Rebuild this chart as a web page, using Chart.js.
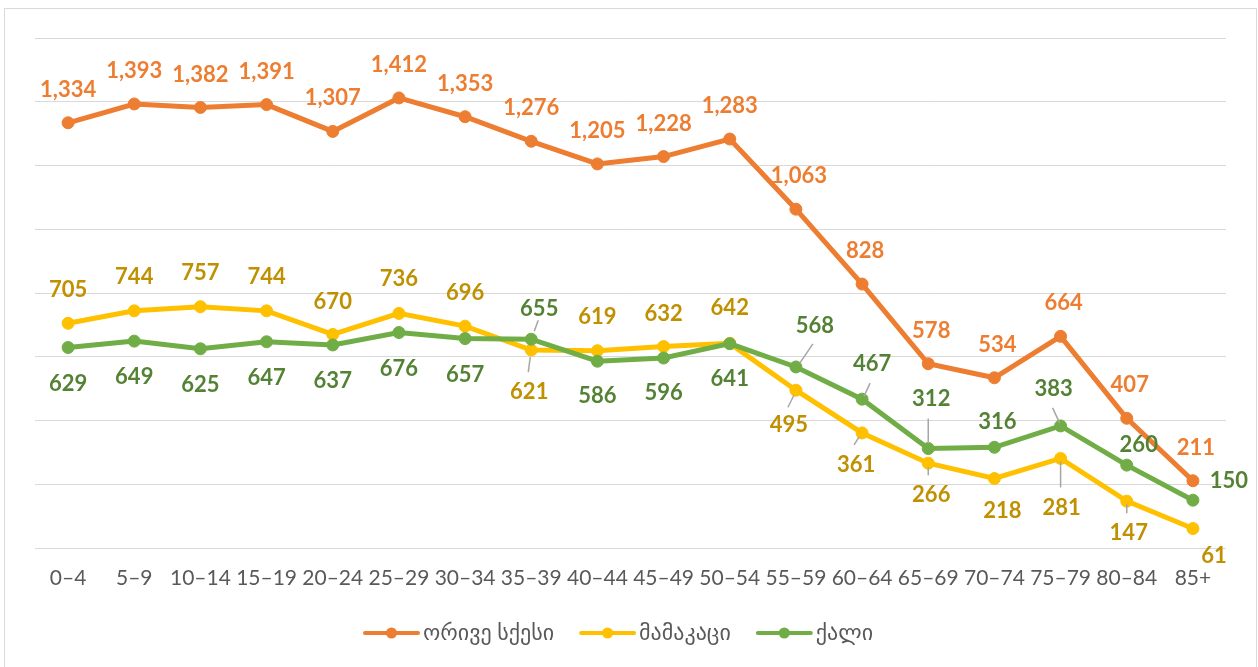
<!DOCTYPE html>
<html>
<head>
<meta charset="utf-8">
<script src="https://cdn.jsdelivr.net/npm/chart.js@4.4.0/dist/chart.umd.min.js"></script>
<style>
  html, body { margin: 0; padding: 0; background: #fff; overflow: hidden; }
  #frame { position: absolute; left: 4px; top: 8px; width: 1253px; height: 700px; border: 1px solid #D9D9D9; box-sizing: border-box; }
  #popChart { position: absolute; left: 0; top: 0; }
</style>
</head>
<body>
<div id="frame"></div>
<canvas id="popChart" width="1258" height="667"></canvas>
<script>
// Age groups and series
const ageGroups = ['0–4', '5–9', '10–14', '15–19', '20–24', '25–29', '30–34', '35–39', '40–44',
  '45–49', '50–54', '55–59', '60–64', '65–69', '70–74', '75–79', '80–84', '85+'];
const seriesNames = ['ორივე სქესი', 'მამაკაცი', 'ქალი'];
const bothSexes = [1334, 1393, 1382, 1391, 1307, 1412, 1353, 1276, 1205, 1228, 1283, 1063, 828, 578, 534, 664, 407, 211];
const males = [705, 744, 757, 744, 670, 736, 696, 621, 619, 632, 642, 495, 361, 266, 218, 281, 147, 61];
const females = [629, 649, 625, 647, 637, 676, 657, 655, 586, 596, 641, 568, 467, 312, 316, 383, 260, 150];
const yMin = 0, yMax = 1600, yStep = 200;

const LINE_COLORS = ['#ED7D31', '#FFC000', '#70AD47'];
const LABEL_COLORS = ['#ED7D31', '#BF9000', '#548235'];
const FONT = 'Lato, "DejaVu Sans", sans-serif';

// label offsets from the point [dx, dy] and optional leader line [x1, y1, x2, y2]
const bothPlace = bothSexes.map((v, i) => [i > 10 ? 3 : 0, -33]);
const malePlace = [[0,-33],[0,-34],[0,-34],[0,-34],[0,-33],[0,-34],[0,-33],
  [-2,42,-1,7,-3,22],[0,-34],[0,-33],[0,-35],
  [-7,35,-2,5,-8,17],[-6,32,-3,4,-8,12],[3,32,0,4,0,12],[8,32],[1,49,0,3,0,29],[2,32,0,3,0,12],[21,27]];
const femalePlace = [[0,36],[0,36],[0,36],[0,36],[0,36],[0,36],[0,36],
  [8,-30,7,-19,3,-8],[0,35],[0,35],[0,35],
  [19,-41,17,-23,4,-4],[10,-35,8,-16,2,-3],[3,-50,0,-30,0,-5],[3,-25],[-7,-37,-8,-18,-1,-3],[12,-20],[36,-19]];

const pointLabels = {
  id: 'pointLabels',
  afterDatasetsDraw(chart) {
    const ctx = chart.ctx;
    ctx.save();
    chart.data.datasets.forEach((ds, di) => {
      const meta = chart.getDatasetMeta(di);
      meta.data.forEach((pt, i) => {
        const p = ds.labelPlace[i];
        if (p.length > 2) {
          ctx.strokeStyle = '#A6A6A6';
          ctx.lineWidth = 1.5;
          ctx.beginPath();
          ctx.moveTo(pt.x + p[2], pt.y + p[3]);
          ctx.lineTo(pt.x + p[4], pt.y + p[5]);
          ctx.stroke();
        }
      });
    });
    chart.data.datasets.forEach((ds, di) => {
      const meta = chart.getDatasetMeta(di);
      ctx.fillStyle = ds.labelColor;
      ctx.font = 'bold 22px ' + FONT;
      ctx.textAlign = 'center';
      ctx.textBaseline = 'middle';
      meta.data.forEach((pt, i) => {
        const p = ds.labelPlace[i];
        ctx.fillText(ds.data[i].toLocaleString('en-US'), pt.x + p[0], pt.y + p[1]);
      });
    });
    ctx.restore();
  }
};

const lineLegend = {
  id: 'lineLegend',
  afterDraw(chart) {
    const ctx = chart.ctx;
    ctx.save();
    ctx.font = '22px ' + FONT;
    ctx.textBaseline = 'middle';
    ctx.textAlign = 'left';
    let x = 365;
    const y = 633;
    chart.data.datasets.forEach(ds => {
      ctx.strokeStyle = ds.borderColor;
      ctx.fillStyle = ds.borderColor;
      ctx.lineWidth = 4;
      ctx.lineCap = 'round';
      ctx.beginPath();
      ctx.moveTo(x, y);
      ctx.lineTo(x + 53, y);
      ctx.stroke();
      ctx.beginPath();
      ctx.arc(x + 26.5, y, 5.5, 0, Math.PI * 2);
      ctx.fill();
      ctx.fillStyle = '#595959';
      ctx.fillText(ds.label, x + 58, y);
      x += 58 + ctx.measureText(ds.label).width + 27;
    });
    ctx.restore();
  }
};

function makeSet(idx, data, place, order) {
  return {
    label: seriesNames[idx],
    data: data,
    borderColor: LINE_COLORS[idx],
    backgroundColor: LINE_COLORS[idx],
    pointBackgroundColor: LINE_COLORS[idx],
    pointBorderColor: LINE_COLORS[idx],
    borderWidth: 5,
    pointRadius: 6,
    pointHoverRadius: 6,
    pointBorderWidth: 1,
    tension: 0,
    order: order,
    labelColor: LABEL_COLORS[idx],
    labelPlace: place
  };
}

window.addEventListener('DOMContentLoaded', () => {
  const ctx = document.getElementById('popChart').getContext('2d');
  new Chart(ctx, {
    type: 'line',
    data: {
      labels: ageGroups,
      datasets: [
        makeSet(0, bothSexes, bothPlace, 2),
        makeSet(1, males, malePlace, 1),
        makeSet(2, females, femalePlace, 0)
      ]
    },
    options: {
      responsive: false,
      animation: false,
      layout: { padding: { left: 35, right: 32, top: 38, bottom: 0 } },
      plugins: {
        legend: { display: false },
        tooltip: { enabled: false }
      },
      scales: {
        x: {
          offset: true,
          grid: { display: false, drawTicks: false },
          border: { display: false },
          ticks: {
            color: '#595959',
            font: { size: 21, family: FONT },
            padding: 18,
            maxRotation: 0,
            autoSkip: false
          },
          afterFit: s => { s.height = 119; }
        },
        y: {
          min: yMin,
          max: yMax,
          grid: { color: '#D9D9D9', lineWidth: 1, drawTicks: false },
          border: { display: false },
          ticks: { stepSize: yStep, display: false },
          afterFit: s => { s.width = 0; }
        }
      }
    },
    plugins: [pointLabels, lineLegend]
  });
});
</script>
</body>
</html>
